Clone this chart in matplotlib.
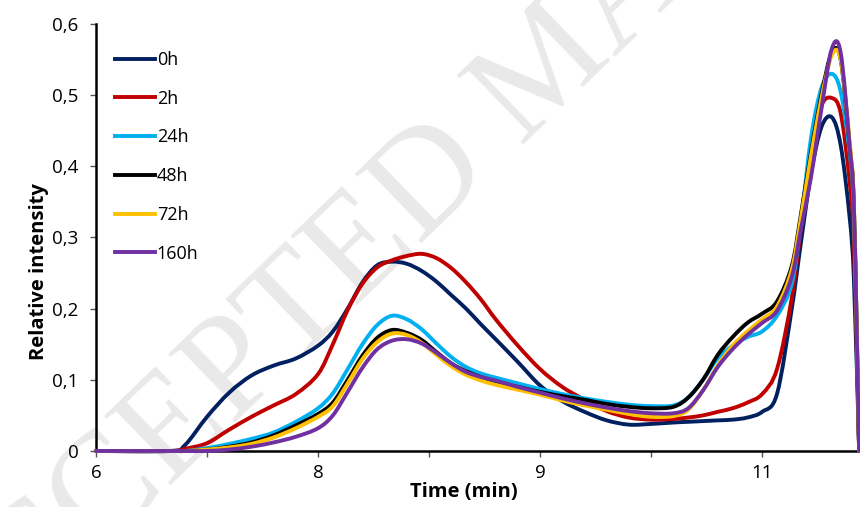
import numpy as np
import matplotlib
matplotlib.use('Agg')
import matplotlib.pyplot as plt
from matplotlib.path import Path
from matplotlib.patches import PathPatch
from matplotlib.lines import Line2D

# Retention time grid (min)
t = [6.0, 6.5, 6.6, 6.75, 6.9, 7.05, 7.2, 7.35, 7.5, 7.6, 7.7, 7.8, 7.9, 8.0, 8.1, 8.2,
     8.3, 8.4, 8.5, 8.6, 8.7, 8.85, 9.0, 9.15, 9.3, 9.45, 9.6, 9.75, 9.9, 10.0, 10.1,
     10.2, 10.3, 10.4, 10.5, 10.6, 10.7, 10.76, 10.83, 10.9, 10.97, 11.03, 11.09, 11.12, 11.155]

i_0h = [0, 0, 0.008, 0.048, 0.082, 0.106, 0.12, 0.13, 0.148, 0.168, 0.2, 0.237, 0.261, 0.266,
        0.263, 0.253, 0.238, 0.219, 0.2, 0.178, 0.157, 0.125, 0.092, 0.07, 0.055, 0.043, 0.037,
        0.038, 0.04, 0.041, 0.042, 0.043, 0.044, 0.047, 0.055, 0.08, 0.2, 0.29, 0.39, 0.455,
        0.469, 0.43, 0.33, 0.24, 0]
i_2h = [0, 0, 0.003, 0.011, 0.03, 0.048, 0.064, 0.08, 0.108, 0.15, 0.198, 0.235, 0.258, 0.268,
        0.274, 0.277, 0.271, 0.257, 0.237, 0.213, 0.185, 0.148, 0.115, 0.09, 0.072, 0.056, 0.047,
        0.044, 0.045, 0.047, 0.05, 0.055, 0.06, 0.068, 0.08, 0.115, 0.215, 0.31, 0.42, 0.485,
        0.496, 0.475, 0.38, 0.29, 0]
i_24h = [0, 0, 0, 0.004, 0.01, 0.017, 0.026, 0.041, 0.06, 0.081, 0.115, 0.15, 0.177, 0.19,
         0.185, 0.171, 0.151, 0.132, 0.118, 0.109, 0.103, 0.095, 0.087, 0.08, 0.074, 0.069, 0.065,
         0.063, 0.064, 0.075, 0.1, 0.13, 0.148, 0.16, 0.168, 0.19, 0.235, 0.32, 0.44, 0.51,
         0.53, 0.505, 0.42, 0.33, 0]
i_48h = [0, 0, 0, 0.002, 0.006, 0.012, 0.022, 0.036, 0.052, 0.068, 0.1, 0.134, 0.159, 0.17,
         0.166, 0.156, 0.139, 0.123, 0.112, 0.104, 0.097, 0.09, 0.083, 0.077, 0.072, 0.066, 0.062,
         0.06, 0.062, 0.075, 0.1, 0.135, 0.16, 0.18, 0.193, 0.21, 0.26, 0.33, 0.42, 0.5,
         0.56, 0.55, 0.43, 0.34, 0]
i_72h = [0, 0, 0, 0.002, 0.005, 0.01, 0.019, 0.032, 0.048, 0.063, 0.095, 0.129, 0.153, 0.165,
         0.163, 0.152, 0.135, 0.119, 0.107, 0.099, 0.093, 0.086, 0.079, 0.071, 0.064, 0.058, 0.052,
         0.048, 0.049, 0.058, 0.085, 0.12, 0.148, 0.168, 0.185, 0.203, 0.255, 0.325, 0.415, 0.495,
         0.556, 0.55, 0.435, 0.34, 0]
i_160h = [0, 0, 0, 0, 0.002, 0.006, 0.012, 0.02, 0.032, 0.05, 0.083, 0.117, 0.143, 0.155,
          0.157, 0.151, 0.138, 0.123, 0.111, 0.104, 0.099, 0.09, 0.082, 0.074, 0.067, 0.061, 0.056,
          0.053, 0.053, 0.06, 0.085, 0.118, 0.143, 0.163, 0.18, 0.197, 0.245, 0.31, 0.385, 0.48,
          0.565, 0.56, 0.43, 0.34, 0]

labels = ['0h', '2h', '24h', '48h', '72h', '160h']
colors = ['#002060', '#C00000', '#00B0F0', '#000000', '#FFC000', '#7030A0']
series = [i_0h, i_2h, i_24h, i_48h, i_72h, i_160h]


def smooth_path(x, y):
    # Excel style "smoothed line": bezier segments through the points
    p = np.column_stack([x, y]).astype(float)
    verts = [p[0]]
    codes = [Path.MOVETO]
    n = len(p)
    for i in range(n - 1):
        p0 = p[i - 1] if i > 0 else p[i]
        p1, p2 = p[i], p[i + 1]
        p3 = p[i + 2] if i + 2 < n else p[i + 1]
        verts += [p1 + (p2 - p0) / 6, p2 - (p3 - p1) / 6, p2]
        codes += [Path.CURVE4] * 3
    return Path(verts, codes)


plt.rcParams['font.family'] = ['Open Sans', 'DejaVu Sans']

fig = plt.figure(figsize=(8.6, 5.07), dpi=100)
ax = fig.add_axes([0.1116, 0.1105, 0.8874, 0.8422])

# watermark
fig.text(0.64, 0.862, 'ACCEPTED MANUSCRIPT', fontsize=105, color='#e9e9e9',
         family='Liberation Serif', rotation=44, ha='center', va='center', zorder=-1)
ax.patch.set_alpha(0)

for y, c in zip(series, colors):
    ax.add_patch(PathPatch(smooth_path(t, y), facecolor='none', edgecolor=c, lw=2.8,
                           joinstyle='round', capstyle='round', zorder=3, clip_on=False))

ax.set_xlim(6, 11.155)
ax.set_ylim(0, 0.6)

ax.set_xticks([6, 7.5, 9, 10.5])
ax.set_xticklabels(['6', '8', '9', '11'])
ax.set_xticks([6.75, 8.25, 9.75], minor=True)
ax.set_yticks(np.arange(0, 0.61, 0.1))
ax.set_yticklabels(['0', '0,1', '0,2', '0,3', '0,4', '0,5', '0,6'])
ax.tick_params(which='both', direction='out', length=4.5, width=1, labelsize=13.5, color='#555555')
ax.tick_params(axis='x', pad=5)
ax.tick_params(axis='y', pad=8)

for s in ['top', 'right']:
    ax.spines[s].set_visible(False)
for s in ['left', 'bottom']:
    ax.spines[s].set_linewidth(1.8)

ax.set_xlabel('Time (min)', fontsize=14.5, fontweight='bold', labelpad=0)
ax.set_ylabel('Relative intensity', fontsize=14.5, fontweight='bold', labelpad=2)
ax.xaxis.label.set_x(0.482)
ax.yaxis.label.set_y(0.42)

handles = [Line2D([], [], color=c, lw=2.8) for c in colors]
ax.legend(handles, labels, loc='upper left', bbox_to_anchor=(0.004, 0.975), frameon=False,
          fontsize=13, handlelength=2.2, handletextpad=0.1, labelspacing=1.15)

fig.savefig('out.png', dpi=100)
